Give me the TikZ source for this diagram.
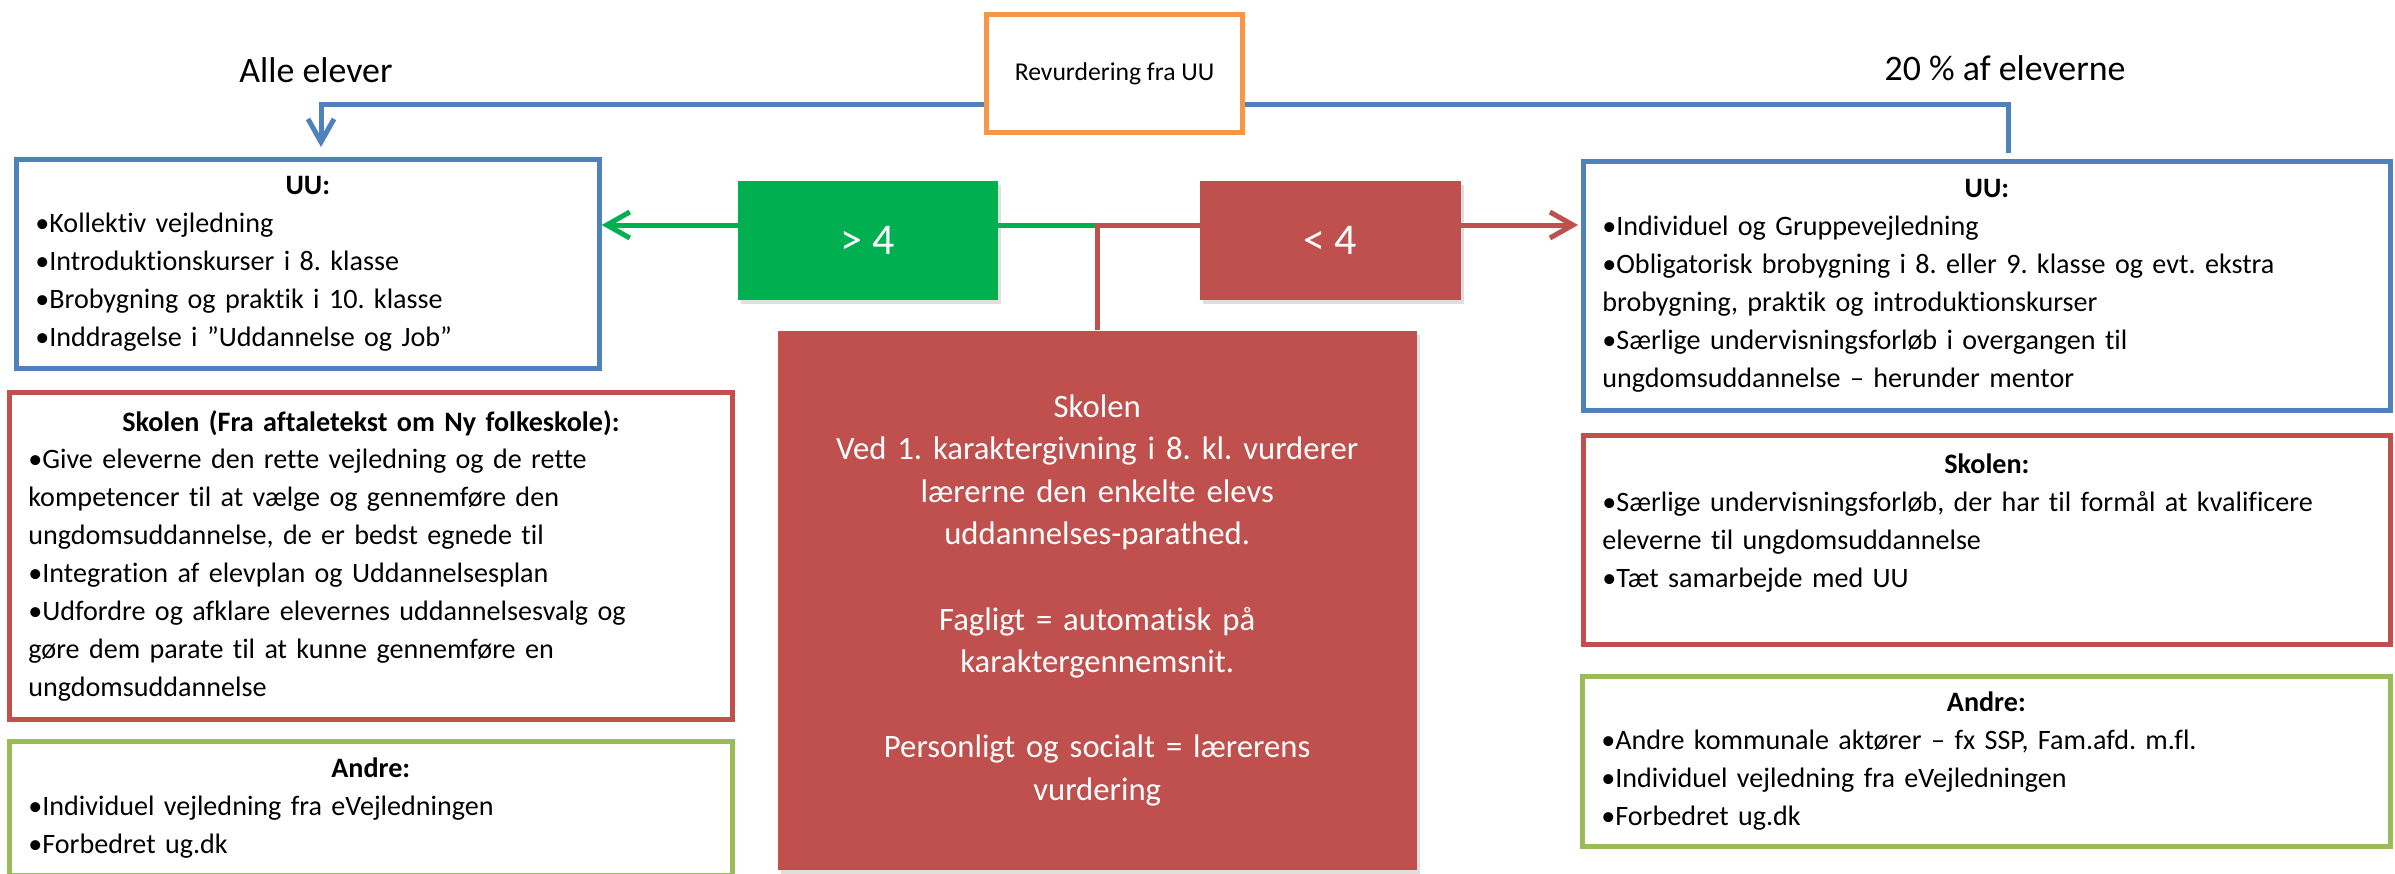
\documentclass[tikz,border=0pt]{standalone}
\usepackage{fontspec}
\setmainfont{Carlito}[Ligatures=NoCommon]
\usetikzlibrary{arrows.meta,backgrounds,shadows}
\definecolor{uublue}{HTML}{4F81BD}
\definecolor{skred}{HTML}{C0504D}
\definecolor{okgreen}{HTML}{00B050}
\definecolor{andgreen}{HTML}{9BBB59}
\definecolor{revorange}{HTML}{F79646}
\frenchspacing

\begin{document}
\begin{tikzpicture}[
        x=0.1mm, y=-0.1mm,
        infobox/.style={draw=#1, line width=0.47mm, fill=white, anchor=north west,
            align=left, inner xsep=1.9mm, inner ysep=0mm,
            font=\fontsize{8}{10.8}\selectfont},
        gradebox/.style={fill=#1, anchor=north west, text=white, minimum height=11.9mm,
            drop shadow={opacity=0.25, shadow xshift=0.3mm, shadow yshift=-0.4mm},
            font=\fontsize{12.5}{15}\selectfont},
        heading/.style={font=\fontsize{10.2}{12}\selectfont},
        link/.style={line width=0.5mm},
        barbtip/.style={-{Straight Barb[length=2.3mm, width=2.6mm]}}
    ]
    \path[use as bounding box, clip] (0,0) rectangle (2395,873);

    % overskrifter
    \node[heading] (alle) at (316,70) {Alle elever};
    \node[heading] (tyve) at (2005,68) {20 \% af eleverne};
    \node[draw=revorange, line width=0.47mm, fill=white, minimum width=25.6mm,
        minimum height=11.8mm, font=\fontsize{7.3}{9}\selectfont] (revurd) at (1114.5,73.5) {Revurdering fra UU};

    % karaktergraenser
    \node[gradebox=okgreen, minimum width=26mm] (over) at (737,180) {> 4};
    \node[gradebox=skred, minimum width=26.1mm] (under) at (1199,180) {< 4};

    \node[fill=skred, anchor=north west, text=white, align=center, text width=60mm,
        minimum width=63.9mm, minimum height=53.9mm,
        drop shadow={opacity=0.25, shadow xshift=0.3mm, shadow yshift=-0.4mm},
        font=\fontsize{9.3}{12.1}\selectfont] (skolen) at (777,330)
        {Skolen\\
         Ved 1. karaktergivning i 8. kl. vurderer\\
         lærerne den enkelte elevs\\
         uddannelses-parathed.\\[\baselineskip]
         Fagligt = automatisk på\\
         karaktergennemsnit.\\[\baselineskip]
         Personligt og socialt = lærerens\\
         vurdering};

    % alle elever
    \node[infobox=uublue, text width=54.5mm, minimum height=20.9mm] (uuL) at (14,157)
        {\makebox[\linewidth]{\textbf{UU:}}\\
         •Kollektiv vejledning\\
         •Introduktionskurser i 8. klasse\\
         •Brobygning og praktik i 10. klasse\\
         •Inddragelse i ”Uddannelse og Job”};
    \node[infobox=skred, text width=68.5mm, minimum height=32.7mm] (skL) at (7,390)
        {\makebox[\linewidth]{\textbf{Skolen (Fra aftaletekst om Ny folkeskole):}}\\
         •Give eleverne den rette vejledning og de rette\\
         kompetencer til at vælge og gennemføre den\\
         ungdomsuddannelse, de er bedst egnede til\\
         •Integration af elevplan og Uddannelsesplan\\
         •Udfordre og afklare elevernes uddannelsesvalg og\\
         gøre dem parate til at kunne gennemføre en\\
         ungdomsuddannelse};
    \node[infobox=andgreen, text width=68.5mm, minimum height=13.4mm] (andL) at (7,739)
        {\makebox[\linewidth]{\textbf{Andre:}}\\
         •Individuel vejledning fra eVejledningen\\
         •Forbedret ug.dk};

    % 20 % af eleverne
    \node[infobox=uublue, text width=76.9mm, minimum height=24.9mm] (uuR) at (1581,159)
        {\makebox[\linewidth]{\textbf{UU:}}\\
         •Individuel og Gruppevejledning\\
         •Obligatorisk brobygning i 8. eller 9. klasse og evt. ekstra\\
         brobygning, praktik og introduktionskurser\\
         •Særlige undervisningsforløb i overgangen til\\
         ungdomsuddannelse – herunder mentor};
    \node[infobox=skred, text width=76.9mm, minimum height=20.9mm] (skR) at (1581,433)
        {\makebox[\linewidth]{\textbf{Skolen:}}\\
         \mbox{•Særlige undervisningsforløb, der har til formål at kvalificere}\\
         eleverne til ungdomsuddannelse\\
         •Tæt samarbejde med UU\\
         \mbox{}};
    \node[infobox=andgreen, text width=77mm, minimum height=17mm] (andR) at (1580,674)
        {\makebox[\linewidth]{\textbf{Andre:}}\\
         •Andre kommunale aktører – fx SSP, Fam.afd. m.fl.\\
         •Individuel vejledning fra eVejledningen\\
         •Forbedret ug.dk};

    \coordinate (split) at (skolen.north |- 0,225);
    \coordinate (bendL) at (321,104);
    \coordinate (bendR) at (2008,104);

    \begin{pgfonlayer}{background}
        \draw[link, uublue, barbtip, shorten <=0.6mm, shorten >=1mm]
            (bendR |- uuR.north) -- (bendR) -- (bendL) -- (bendL |- uuL.north);
        \draw[link, okgreen, barbtip] (split) -- (split -| uuL.east);
        \draw[link, skred, barbtip, shorten >=0.3mm] (skolen.north) -- (split) -- (split -| uuR.west);
    \end{pgfonlayer}
\end{tikzpicture}
\end{document}
